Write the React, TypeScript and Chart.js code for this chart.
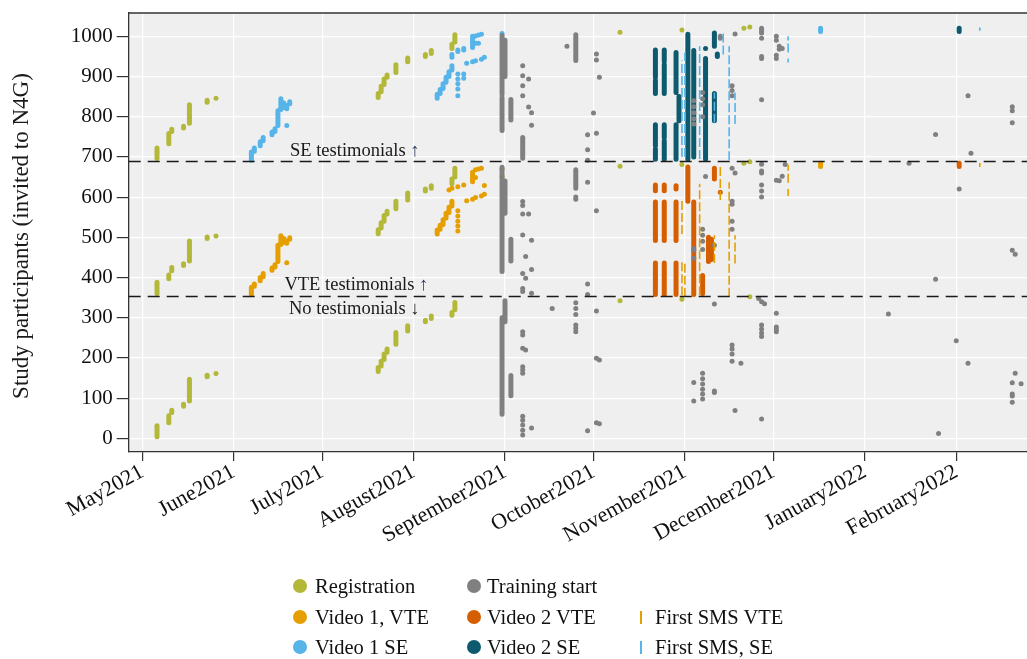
import React, { useEffect, useRef } from "react";
import { Chart, registerables } from "chart.js";

Chart.register(...registerables);

type Run = [string, number, number];
type Dot = [string, number];

// ---------- axes ----------
const monthTicks = ["2021-05-01", "2021-06-01", "2021-07-01", "2021-08-01", "2021-09-01", "2021-10-01", "2021-11-01", "2021-12-01", "2022-01-01", "2022-02-01"];
const monthLabels = ["May2021", "June2021", "July2021", "August2021", "September2021", "October2021", "November2021", "December2021", "January2022", "February2022"];
const yTicks = [0, 100, 200, 300, 400, 500, 600, 700, 800, 900, 1000];
const xRange = ["2021-04-26", "2022-02-25"];
const yRange = [-34, 1058];
const thresholds = [354.5, 690.5];

// ---------- annotations ----------
const annotations = [
  { text: "SE testimonials ", arrow: "↑", date: "2021-08-03", value: 715 },
  { text: "VTE testimonials ", arrow: "↑", date: "2021-08-06", value: 381 },
  { text: "No testimonials ", arrow: "↓", date: "2021-08-03", value: 322 },
];

// ---------- Registration ----------
const registrationRuns: Run[] = [
  ["2021-05-06", 696, 722], ["2021-05-10", 733, 758], ["2021-05-11", 763, 769], ["2021-05-15", 772, 776], ["2021-05-17", 784, 830],
  ["2021-05-06", 360, 388], ["2021-05-10", 397, 406], ["2021-05-11", 417, 425], ["2021-05-15", 430, 434], ["2021-05-17", 441, 491],
  ["2021-05-06", 4, 31], ["2021-05-10", 39, 56], ["2021-05-11", 64, 70], ["2021-05-15", 80, 85], ["2021-05-17", 93, 147],
  ["2021-07-20", 848, 858], ["2021-07-21", 862, 876], ["2021-07-22", 880, 894], ["2021-07-23", 898, 904], ["2021-07-26", 910, 929],
  ["2021-07-30", 937, 946], ["2021-08-05", 950, 955], ["2021-08-07", 957, 965], ["2021-08-14", 970, 980], ["2021-08-15", 986, 1004],
  ["2021-07-20", 509, 519], ["2021-07-21", 523, 536], ["2021-07-22", 540, 554], ["2021-07-23", 558, 565], ["2021-07-26", 571, 590],
  ["2021-07-30", 593, 610], ["2021-08-05", 615, 620], ["2021-08-07", 622, 628], ["2021-08-14", 633, 645], ["2021-08-15", 650, 672],
  ["2021-07-20", 166, 176], ["2021-07-21", 180, 192], ["2021-07-22", 196, 210], ["2021-07-23", 214, 222], ["2021-07-26", 234, 263],
  ["2021-07-30", 267, 280], ["2021-08-05", 290, 294], ["2021-08-07", 298, 304], ["2021-08-14", 306, 313], ["2021-08-15", 320, 338],
];
const registrationDots: Dot[] = [
  ["2021-05-23", 836], ["2021-05-23", 841], ["2021-05-26", 846],
  ["2021-05-23", 497], ["2021-05-23", 501], ["2021-05-26", 503],
  ["2021-05-23", 153], ["2021-05-23", 157], ["2021-05-26", 161],
  ["2021-10-10", 1010], ["2021-10-10", 677], ["2021-10-10", 342],
  ["2021-10-31", 1016], ["2021-10-31", 681], ["2021-10-31", 346],
  ["2021-11-21", 1020], ["2021-11-23", 1023], ["2021-11-21", 684], ["2021-11-23", 688], ["2021-11-23", 352],
];

// ---------- Training start ----------
const trainingRuns: Run[] = [
  ["2021-08-31", 855, 1002], ["2021-08-31", 766, 848], ["2021-09-01", 900, 990],
  ["2021-08-31", 415, 674], ["2021-09-01", 560, 640],
  ["2021-08-31", 60, 300], ["2021-09-01", 290, 342],
  ["2021-09-03", 792, 843], ["2021-09-03", 441, 495], ["2021-09-03", 106, 156],
  ["2021-09-07", 697, 748],
  ["2021-09-25", 940, 1004], ["2021-09-25", 622, 668],
  ["2021-11-27", 1008, 1020],
];
const trainingDots: Dot[] = [
  ["2021-09-07", 927], ["2021-09-07", 902], ["2021-09-07", 877], ["2021-09-07", 852],
  ["2021-09-09", 894], ["2021-09-09", 824], ["2021-09-10", 810], ["2021-09-10", 779],
  ["2021-09-07", 589], ["2021-09-07", 579], ["2021-09-07", 558], ["2021-09-09", 558],
  ["2021-09-07", 506], ["2021-09-08", 452], ["2021-09-07", 410], ["2021-09-08", 398],
  ["2021-09-10", 493], ["2021-09-10", 420], ["2021-09-07", 373], ["2021-09-07", 365], ["2021-09-10", 361],
  ["2021-09-07", 265], ["2021-09-07", 257], ["2021-09-07", 224], ["2021-09-08", 220], ["2021-09-07", 178],
  ["2021-09-07", 170], ["2021-09-07", 162], ["2021-09-07", 55], ["2021-09-07", 45], ["2021-09-07", 33],
  ["2021-09-07", 20], ["2021-09-07", 8], ["2021-09-10", 26], ["2021-09-17", 323],
  ["2021-09-22", 975], ["2021-09-25", 600], ["2021-09-25", 595],
  ["2021-09-25", 337], ["2021-09-25", 323], ["2021-09-25", 308], ["2021-09-25", 282], ["2021-09-25", 274], ["2021-09-25", 265],
  ["2021-09-29", 755], ["2021-09-29", 718], ["2021-09-29", 692], ["2021-09-29", 637], ["2021-09-29", 384], ["2021-09-29", 358], ["2021-09-29", 19],
  ["2021-10-01", 809],
  ["2021-10-02", 956], ["2021-10-02", 941], ["2021-10-03", 898], ["2021-10-02", 759], ["2021-10-02", 566], ["2021-10-02", 317],
  ["2021-10-02", 199], ["2021-10-03", 195], ["2021-10-02", 39], ["2021-10-03", 36],
  ["2021-11-04", 840], ["2021-11-04", 825], ["2021-11-04", 810], ["2021-11-04", 795], ["2021-11-04", 782],
  ["2021-11-04", 472], ["2021-11-04", 468], ["2021-11-04", 448], ["2021-11-04", 139], ["2021-11-04", 93],
  ["2021-11-07", 860], ["2021-11-07", 845], ["2021-11-07", 830], ["2021-11-07", 800],
  ["2021-11-07", 520], ["2021-11-07", 505], ["2021-11-07", 490], ["2021-11-07", 470], ["2021-11-08", 651],
  ["2021-11-07", 162], ["2021-11-07", 148], ["2021-11-07", 135], ["2021-11-07", 122], ["2021-11-07", 110], ["2021-11-07", 98],
  ["2021-11-11", 480], ["2021-11-11", 334], ["2021-11-11", 118], ["2021-11-11", 114],
  ["2021-11-13", 1000], ["2021-11-13", 995],
  ["2021-11-17", 877], ["2021-11-17", 865], ["2021-11-17", 852], ["2021-11-17", 672], ["2021-11-18", 660],
  ["2021-11-17", 590], ["2021-11-17", 582], ["2021-11-17", 540], ["2021-11-17", 520],
  ["2021-11-17", 232], ["2021-11-17", 222], ["2021-11-17", 210], ["2021-11-17", 192],
  ["2021-11-18", 1006], ["2021-11-18", 69], ["2021-11-20", 187],
  ["2021-11-27", 995], ["2021-11-27", 950], ["2021-11-27", 945], ["2021-11-27", 842],
  ["2021-11-27", 682], ["2021-11-27", 665], ["2021-11-27", 660], ["2021-11-27", 630], ["2021-11-27", 615], ["2021-11-27", 600],
  ["2021-11-26", 348], ["2021-11-27", 340], ["2021-11-28", 335], ["2021-11-27", 282], ["2021-11-27", 272], ["2021-11-27", 262], ["2021-11-27", 253], ["2021-11-27", 48],
  ["2021-12-02", 1000], ["2021-12-02", 990], ["2021-12-02", 953], ["2021-12-02", 945], ["2021-12-02", 642],
  ["2021-12-02", 311], ["2021-12-02", 277], ["2021-12-02", 271], ["2021-12-02", 265],
  ["2021-12-03", 975], ["2021-12-03", 968], ["2021-12-03", 641], ["2021-12-04", 970], ["2021-12-04", 652], ["2021-12-05", 681],
  ["2022-01-09", 309], ["2022-01-16", 684], ["2022-01-25", 756], ["2022-01-25", 396], ["2022-01-26", 12],
  ["2022-02-02", 620], ["2022-02-01", 243], ["2022-02-05", 852], ["2022-02-05", 187], ["2022-02-06", 709],
  ["2022-02-20", 825], ["2022-02-20", 815], ["2022-02-20", 785], ["2022-02-20", 468], ["2022-02-21", 458],
  ["2022-02-21", 162], ["2022-02-20", 138], ["2022-02-20", 110], ["2022-02-20", 105], ["2022-02-20", 90], ["2022-02-23", 136],
];

// ---------- Video 1, VTE ----------
const video1VteRuns: Run[] = [
  ["2021-06-07", 358, 376], ["2021-06-08", 378, 384], ["2021-06-10", 392, 400], ["2021-06-11", 402, 410], ["2021-06-14", 418, 424],
  ["2021-06-15", 426, 432], ["2021-06-16", 440, 480], ["2021-06-17", 482, 504], ["2021-06-18", 488, 497], ["2021-06-19", 485, 491], ["2021-06-20", 495, 499],
  ["2021-08-09", 508, 518], ["2021-08-10", 520, 530], ["2021-08-11", 532, 544], ["2021-08-12", 548, 560], ["2021-08-13", 562, 575],
  ["2021-08-14", 578, 590], ["2021-08-21", 638, 662], ["2021-12-17", 676, 684],
];
const video1VteDots: Dot[] = [
  ["2021-06-19", 437],
  ["2021-08-13", 618], ["2021-08-14", 622], ["2021-08-16", 626], ["2021-08-18", 630],
  ["2021-08-16", 566], ["2021-08-16", 553], ["2021-08-16", 540], ["2021-08-16", 528], ["2021-08-16", 516],
  ["2021-08-22", 668], ["2021-08-23", 670], ["2021-08-24", 672], ["2021-08-22", 649],
  ["2021-08-19", 591], ["2021-08-21", 595], ["2021-08-22", 599], ["2021-08-24", 603], ["2021-08-25", 607], ["2021-08-25", 629],
  ["2021-08-31", 670], ["2021-08-31", 652],
];

// ---------- Video 1 SE ----------
const video1SeRuns: Run[] = [
  ["2021-06-07", 692, 712], ["2021-06-08", 714, 722], ["2021-06-10", 728, 738], ["2021-06-11", 740, 748], ["2021-06-14", 755, 762],
  ["2021-06-15", 763, 770], ["2021-06-16", 778, 815], ["2021-06-17", 818, 845], ["2021-06-18", 823, 834], ["2021-06-19", 820, 828], ["2021-06-20", 832, 837],
  ["2021-08-09", 846, 856], ["2021-08-10", 858, 868], ["2021-08-11", 870, 882], ["2021-08-12", 886, 898], ["2021-08-13", 900, 912],
  ["2021-08-14", 916, 927], ["2021-08-14", 948, 955], ["2021-08-16", 962, 966], ["2021-08-18", 966, 970], ["2021-08-21", 972, 1000],
  ["2021-12-17", 1012, 1020],
];
const video1SeDots: Dot[] = [
  ["2021-06-19", 778],
  ["2021-08-16", 906], ["2021-08-16", 894], ["2021-08-16", 882], ["2021-08-16", 869], ["2021-08-16", 852],
  ["2021-08-18", 906], ["2021-08-18", 896],
  ["2021-08-19", 933], ["2021-08-21", 937], ["2021-08-22", 939], ["2021-08-24", 943], ["2021-08-25", 948],
  ["2021-08-22", 1001], ["2021-08-23", 1003], ["2021-08-24", 1005], ["2021-08-22", 983], ["2021-08-23", 983],
  ["2021-08-31", 1007],
];

// ---------- Video 2 VTE ----------
const video2VteRuns: Run[] = [
  ["2021-10-22", 616, 630], ["2021-10-22", 492, 588], ["2021-10-22", 358, 436],
  ["2021-10-25", 616, 630], ["2021-10-25", 492, 588], ["2021-10-25", 358, 436],
  ["2021-10-29", 620, 628], ["2021-10-29", 492, 588], ["2021-10-29", 358, 436],
  ["2021-11-02", 590, 675], ["2021-11-04", 358, 588], ["2021-11-07", 360, 405],
  ["2021-11-09", 440, 500], ["2021-11-10", 445, 495], ["2021-11-11", 645, 672],
  ["2022-02-02", 676, 684],
];
const video2VteDots: Dot[] = [["2021-11-13", 612]];

// ---------- Video 2 SE ----------
const video2SeRuns: Run[] = [
  ["2021-10-22", 858, 890], ["2021-10-22", 898, 966], ["2021-10-22", 694, 720], ["2021-10-22", 728, 780],
  ["2021-10-25", 858, 930], ["2021-10-25", 938, 966], ["2021-10-25", 694, 740], ["2021-10-25", 748, 780],
  ["2021-10-29", 860, 960], ["2021-10-29", 694, 780], ["2021-10-30", 790, 850],
  ["2021-11-02", 694, 1005], ["2021-11-04", 700, 965], ["2021-11-08", 694, 945],
  ["2021-11-11", 975, 1008], ["2021-11-11", 790, 858], ["2021-11-12", 950, 956],
  ["2022-02-02", 1012, 1020],
];
const video2SeDots: Dot[] = [["2021-11-08", 970]];

// ---------- First SMS ----------
const smsVteRuns: Run[] = [
  ["2021-10-31", 508, 591], ["2021-10-31", 356, 439], ["2021-11-01", 352, 440], ["2021-11-06", 356, 633],
  ["2021-11-11", 436, 505], ["2021-11-13", 593, 677], ["2021-11-16", 352, 637], ["2021-11-18", 435, 505],
  ["2021-12-06", 636, 681], ["2021-12-06", 603, 620], ["2022-02-09", 675, 685],
];
const smsSeRuns: Run[] = [
  ["2021-10-31", 700, 940], ["2021-11-01", 700, 960], ["2021-11-06", 695, 975], ["2021-11-11", 785, 860],
  ["2021-11-14", 955, 1010], ["2021-11-16", 692, 975], ["2021-11-18", 782, 860],
  ["2021-12-06", 960, 1000], ["2021-12-06", 935, 945], ["2022-02-09", 1014, 1022],
];

// ---------- colours / legend ----------
const colors = {
  registration: "#b4b838",
  training: "#808080",
  video1Vte: "#e69f00",
  video2Vte: "#d55e00",
  video1Se: "#56b4e9",
  video2Se: "#0d5a6e",
};
const legendItems = [
  { label: "Registration", color: colors.registration, kind: "dot", col: 0, row: 0 },
  { label: "Training start", color: colors.training, kind: "dot", col: 1, row: 0 },
  { label: "Video 1, VTE", color: colors.video1Vte, kind: "dot", col: 0, row: 1 },
  { label: "Video 2 VTE", color: colors.video2Vte, kind: "dot", col: 1, row: 1 },
  { label: "First SMS VTE", color: colors.video1Vte, kind: "bar", col: 2, row: 1 },
  { label: "Video 1 SE", color: colors.video1Se, kind: "dot", col: 0, row: 2 },
  { label: "Video 2 SE", color: colors.video2Se, kind: "dot", col: 1, row: 2 },
  { label: "First SMS, SE", color: colors.video1Se, kind: "bar", col: 2, row: 2 },
];

const FONT = "'Liberation Serif', 'Times New Roman', serif";
const START = Date.UTC(2021, 4, 1);
const dayOf = (s: string) => {
  const [y, m, d] = s.split("-").map(Number);
  return (Date.UTC(y, m - 1, d) - START) / 86400000;
};
const runPoints = (runs: Run[]) =>
  runs.flatMap(([d, a, b]) => [
    { x: dayOf(d), y: a },
    { x: dayOf(d), y: b },
    { x: dayOf(d), y: null as any },
  ]);
const dotPoints = (dots: Dot[]) => dots.map(([d, v]) => ({ x: dayOf(d), y: v }));

const DOT_R = 2.5;
const RUN_W = 5;

function runSet(label: string, runs: Run[], color: string, order: number) {
  return {
    type: "line" as const,
    label,
    data: runPoints(runs),
    borderColor: color,
    backgroundColor: color,
    borderWidth: RUN_W,
    borderCapStyle: "round" as const,
    borderJoinStyle: "round" as const,
    pointRadius: 0,
    spanGaps: false,
    tension: 0,
    fill: false,
    order,
  };
}
function dotSet(label: string, dots: Dot[], color: string, order: number) {
  return {
    type: "scatter" as const,
    label,
    data: dotPoints(dots),
    backgroundColor: color,
    borderWidth: 0,
    pointRadius: DOT_R,
    pointHoverRadius: DOT_R,
    order,
  };
}
function smsSet(label: string, runs: Run[], color: string, order: number) {
  return {
    type: "line" as const,
    label,
    data: runPoints(runs),
    borderColor: color,
    borderWidth: 1.6,
    borderCapStyle: "butt" as const,
    borderDash: [9, 3],
    pointRadius: 0,
    spanGaps: false,
    tension: 0,
    fill: false,
    order,
  };
}

const decorPlugin = {
  id: "decor",
  beforeDraw(chart: any) {
    const { ctx, chartArea: a } = chart;
    ctx.save();
    ctx.fillStyle = "#efefef";
    ctx.fillRect(a.left, a.top, a.right - a.left, a.bottom - a.top);
    ctx.restore();
  },
  afterDatasetsDraw(chart: any) {
    const { ctx, chartArea: a, scales } = chart;
    const xs = scales.x;
    const ys = scales.y;
    ctx.save();
    ctx.strokeStyle = "#1a1a1a";
    ctx.lineWidth = 1.5;
    ctx.setLineDash([12, 7]);
    thresholds.forEach((t) => {
      const y = Math.round(ys.getPixelForValue(t)) + 0.5;
      ctx.beginPath();
      ctx.moveTo(a.left, y);
      ctx.lineTo(a.right, y);
      ctx.stroke();
    });
    ctx.setLineDash([]);
    ctx.strokeStyle = "#333";
    ctx.lineWidth = 1.3;
    ctx.beginPath();
    ctx.moveTo(a.left, a.top);
    ctx.lineTo(a.right, a.top);
    ctx.stroke();

    ctx.font = `18.5px ${FONT}`;
    ctx.textBaseline = "middle";
    ctx.textAlign = "left";
    annotations.forEach((an) => {
      const xr = xs.getPixelForValue(dayOf(an.date));
      const y = ys.getPixelForValue(an.value);
      const wt = ctx.measureText(an.text).width;
      const wa = ctx.measureText(an.arrow).width;
      const x0 = xr - wt - wa;
      ctx.fillStyle = "#1a1a1a";
      ctx.fillText(an.text, x0, y);
      ctx.fillStyle = an.arrow === "↑" ? "#27375e" : "#1a1a1a";
      ctx.fillText(an.arrow, x0 + wt, y);
    });

    // y title
    ctx.font = `23px ${FONT}`;
    ctx.fillStyle = "#1a1a1a";
    ctx.textAlign = "center";
    ctx.translate(22, 236);
    ctx.rotate(-Math.PI / 2);
    ctx.fillText("Study participants (invited to N4G)", 0, 0);
    ctx.restore();
  },
};

export default function App() {
  const ref = useRef<HTMLCanvasElement>(null);
  useEffect(() => {
    if (!ref.current) return;
    const monthVals = monthTicks.map(dayOf);
    const chart = new Chart(ref.current, {
      type: "scatter",
      data: {
        datasets: [
          dotSet("Registration", registrationDots, colors.registration, 9),
          runSet("Registration", registrationRuns, colors.registration, 9),
          runSet("Video 1, VTE", video1VteRuns, colors.video1Vte, 8),
          dotSet("Video 1, VTE", video1VteDots, colors.video1Vte, 8),
          runSet("Video 1 SE", video1SeRuns, colors.video1Se, 8),
          dotSet("Video 1 SE", video1SeDots, colors.video1Se, 8),
          runSet("Video 2 VTE", video2VteRuns, colors.video2Vte, 7),
          dotSet("Video 2 VTE", video2VteDots, colors.video2Vte, 7),
          runSet("Video 2 SE", video2SeRuns, colors.video2Se, 7),
          dotSet("Video 2 SE", video2SeDots, colors.video2Se, 7),
          runSet("Training start", trainingRuns, colors.training, 6),
          dotSet("Training start", trainingDots, colors.training, 6),
          smsSet("First SMS VTE", smsVteRuns, colors.video1Vte, 5),
          smsSet("First SMS, SE", smsSeRuns, colors.video1Se, 5),
        ] as any,
      },
      plugins: [decorPlugin],
      options: {
        animation: false,
        responsive: true,
        maintainAspectRatio: false,
        layout: { autoPadding: false, padding: { top: 13, right: 0, bottom: 0, left: 0 } } as any,
        plugins: { legend: { display: false }, tooltip: { enabled: false } },
        font: { family: FONT } as any,
        scales: {
          x: {
            type: "linear",
            min: dayOf(xRange[0]) + 0.4,
            max: dayOf(xRange[1]),
            afterFit: (s: any) => {
              s.height = 207;
              s.paddingLeft = 0;
              s.paddingRight = 0;
            },
            afterBuildTicks: (s: any) => {
              s.ticks = monthVals.map((v) => ({ value: v }));
            },
            grid: { color: "#ffffff", lineWidth: 1.2, tickColor: "#333", tickLength: 9 },
            border: { display: true, color: "#333", width: 1.3 },
            ticks: {
              autoSkip: false,
              minRotation: 29,
              maxRotation: 29,
              padding: -2,
              color: "#111",
              font: { family: FONT, size: 22 },
              callback: (v: any) => {
                const i = monthVals.indexOf(Number(v));
                return i >= 0 ? monthLabels[i] : "";
              },
            },
          },
          y: {
            type: "linear",
            min: yRange[0],
            max: yRange[1],
            afterFit: (s: any) => {
              s.width = 128.7;
              s.paddingTop = 0;
              s.paddingBottom = 0;
            },
            afterBuildTicks: (s: any) => {
              s.ticks = yTicks.map((v) => ({ value: v }));
            },
            grid: { color: "#ffffff", lineWidth: 1.2, tickColor: "#333", tickLength: 12 },
            border: { display: true, color: "#333", width: 1.3 },
            ticks: {
              padding: 4,
              color: "#111",
              font: { family: FONT, size: 21 },
              callback: (v: any) => String(v),
            },
          },
        },
      },
    });
    return () => chart.destroy();
  }, []);

  const colX = [300, 474, 641];
  const textX = [315, 487, 655];
  const rowY = [586, 617, 647];

  return (
    <div style={{ position: "fixed", left: 0, top: 0, width: 1027, height: 659, background: "#fff" }}>
      <canvas ref={ref} style={{ position: "absolute", left: 0, top: 0 }} />
      {legendItems.map((it) => (
        <React.Fragment key={it.label}>
          {it.kind === "dot" ? (
            <div
              style={{
                position: "absolute",
                left: colX[it.col] - 7,
                top: rowY[it.row] - 7,
                width: 14,
                height: 14,
                borderRadius: 7,
                background: it.color,
              }}
            />
          ) : (
            <div
              style={{
                position: "absolute",
                left: colX[it.col] - 0.8,
                top: rowY[it.row] - 6.5,
                width: 1.6,
                height: 13,
                background: it.color,
              }}
            />
          )}
          <div
            style={{
              position: "absolute",
              left: textX[it.col],
              top: rowY[it.row] - 13,
              height: 26,
              lineHeight: "26px",
              fontFamily: FONT,
              fontSize: 20.5,
              color: "#111",
              whiteSpace: "nowrap",
            }}
          >
            {it.label}
          </div>
        </React.Fragment>
      ))}
    </div>
  );
}
